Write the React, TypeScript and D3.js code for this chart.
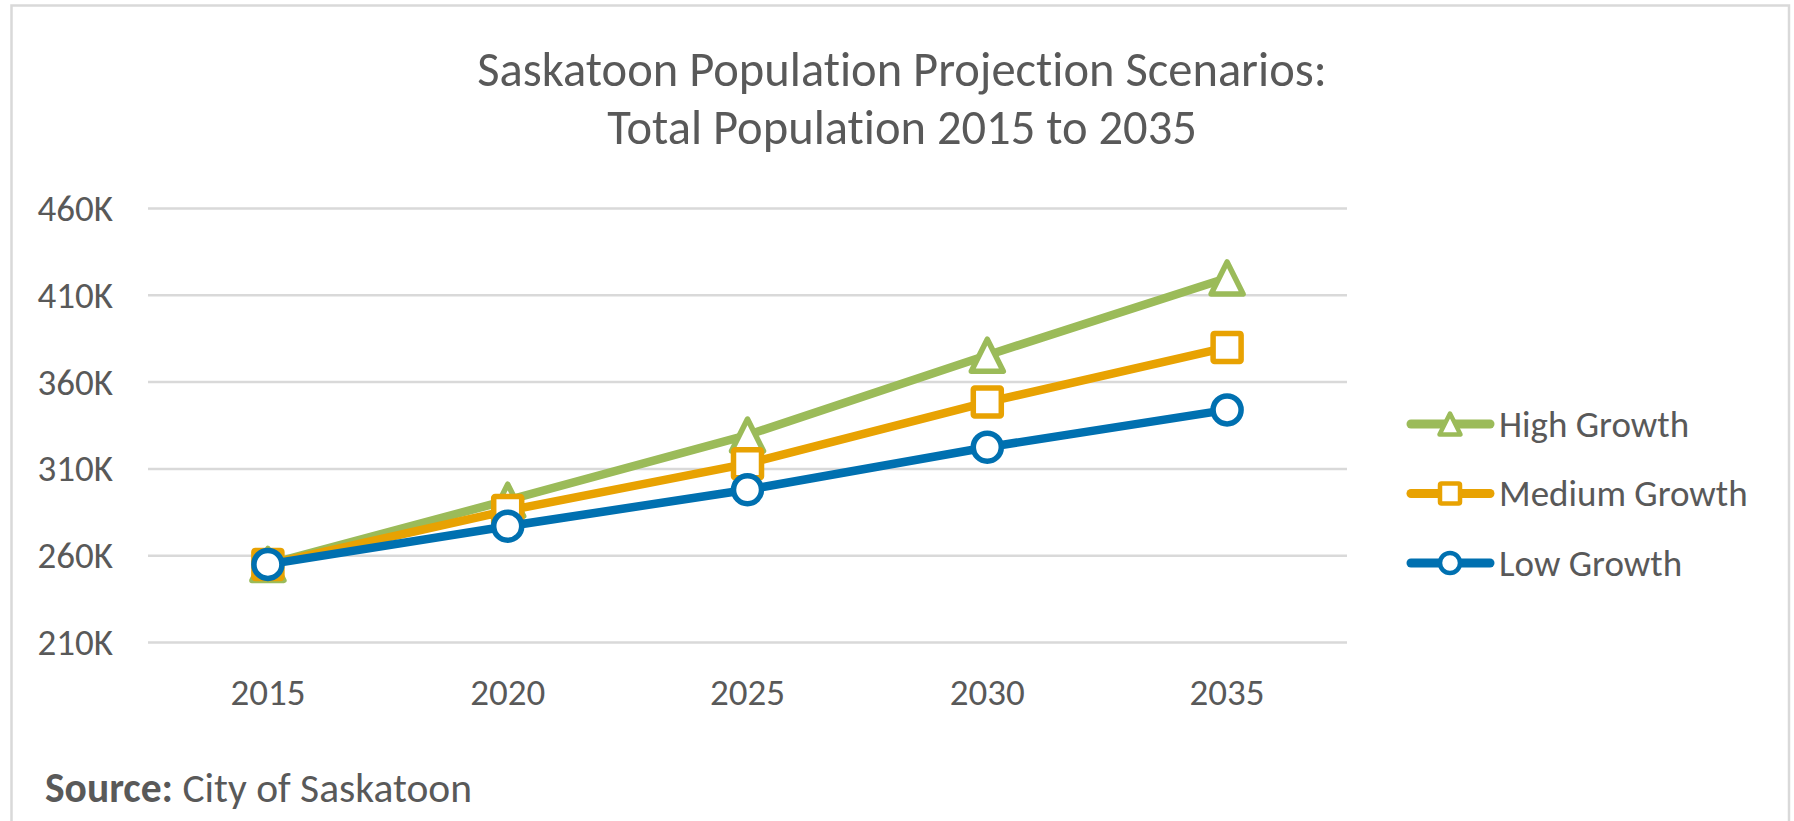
import * as d3 from 'd3'
import { useRef, useEffect } from 'react'

const years = ['2015', '2020', '2025', '2030', '2035']
const highGrowth = [255000, 292000, 329500, 375500, 420000]
const mediumGrowth = [255000, 286000, 313000, 348500, 380000]
const lowGrowth = [255000, 277000, 298000, 322500, 344000]
const yTicks = [210000, 260000, 310000, 360000, 410000, 460000]
const seriesNames = ['High Growth', 'Medium Growth', 'Low Growth']
const seriesColors = ['#9BBB59', '#E8A202', '#0070B0']
const seriesShapes = ['triangle', 'square', 'circle']
const titleLines = ['Saskatoon Population Projection Scenarios:', 'Total Population 2015 to 2035']

const FONT = 'Carlito, Lato, "Open Sans", sans-serif'
const TEXT = '#595959'

const App = () => {
  const chart = useRef<SVGSVGElement>(null)

  useEffect(() => {
    drawChart()
  }, [])

  const drawMarker = (g: any, shape: string, color: string, cx: number, cy: number, size: number, sw: number) => {
    if (shape === 'circle') {
      g.append('circle')
        .attr('cx', cx).attr('cy', cy).attr('r', size / 2)
        .attr('fill', '#fff').attr('stroke', color).attr('stroke-width', sw)
    } else if (shape === 'square') {
      g.append('rect')
        .attr('x', cx - size / 2).attr('y', cy - size / 2)
        .attr('width', size).attr('height', size).attr('rx', 1.5)
        .attr('fill', '#fff').attr('stroke', color).attr('stroke-width', sw)
    } else {
      const h = size / 2
      g.append('path')
        .attr('d', `M${cx},${cy - h}L${cx + h},${cy + h}L${cx - h},${cy + h}Z`)
        .attr('fill', '#fff').attr('stroke', color).attr('stroke-width', sw)
        .attr('stroke-linejoin', 'round')
    }
  }

  const drawChart = () => {
    const width = 1794
    const height = 821
    const svg = d3.select(chart.current)
    svg.selectAll('*').remove()
    svg.attr('width', width).attr('height', height)
      .style('font-variant-ligatures', 'none')

    // chart area border
    svg.append('rect')
      .attr('x', 11.5).attr('y', 5.5)
      .attr('width', 1777.5).attr('height', 840)
      .attr('fill', '#fff').attr('stroke', '#D9D9D9').attr('stroke-width', 2.5)

    // title
    svg.append('g').selectAll('text')
      .data(titleLines)
      .enter()
      .append('text')
      .attr('x', 902)
      .attr('y', (d, i) => 86 + i * 58)
      .attr('text-anchor', 'middle')
      .attr('font-family', FONT)
      .attr('font-size', 48.5)
      .attr('fill', TEXT)
      .text((d) => d)

    const x = d3.scaleBand().domain(years).range([148, 1347])
    const y = d3.scaleLinear().domain([210000, 460000]).range([642.5, 208.5])

    // gridlines
    svg.append('g').selectAll('line')
      .data(yTicks)
      .enter()
      .append('line')
      .attr('x1', 148).attr('x2', 1347)
      .attr('y1', (d) => y(d)).attr('y2', (d) => y(d))
      .attr('stroke', '#D9D9D9').attr('stroke-width', 2.5)

    // y labels
    svg.append('g').selectAll('text')
      .data(yTicks)
      .enter()
      .append('text')
      .attr('x', 113)
      .attr('y', (d) => y(d))
      .attr('dy', '0.34em')
      .attr('text-anchor', 'end')
      .attr('font-family', FONT)
      .attr('font-size', 37)
      .attr('fill', TEXT)
      .text((d) => d / 1000 + 'K')

    // x labels
    svg.append('g').selectAll('text')
      .data(years)
      .enter()
      .append('text')
      .attr('x', (d) => x(d)! + x.bandwidth() / 2)
      .attr('y', 705)
      .attr('text-anchor', 'middle')
      .attr('font-family', FONT)
      .attr('font-size', 37)
      .attr('fill', TEXT)
      .text((d) => d)

    const allSeries = [highGrowth, mediumGrowth, lowGrowth]
    const line = d3.line<number>()
      .x((d, i) => x(years[i])! + x.bandwidth() / 2)
      .y((d) => y(d))

    allSeries.forEach((values, s) => {
      const g = svg.append('g')
      g.append('path')
        .attr('d', line(values))
        .attr('fill', 'none')
        .attr('stroke', seriesColors[s])
        .attr('stroke-width', 8.5)
        .attr('stroke-linejoin', 'round')
      values.forEach((v, i) => {
        const size = seriesShapes[s] === 'triangle' ? 32 : 28
        drawMarker(g, seriesShapes[s], seriesColors[s], x(years[i])! + x.bandwidth() / 2, y(v), size, 5.5)
      })
    })

    // legend
    const legend = svg.append('g')
    seriesNames.forEach((name, s) => {
      const ly = 424 + s * 69.5
      legend.append('line')
        .attr('x1', 1411).attr('x2', 1490)
        .attr('y1', ly).attr('y2', ly)
        .attr('stroke', seriesColors[s]).attr('stroke-width', 9)
        .attr('stroke-linecap', 'round')
      drawMarker(legend, seriesShapes[s], seriesColors[s], 1450, ly, seriesShapes[s] === 'triangle' ? 21 : 20, 4.5)
      legend.append('text')
        .attr('x', 1499).attr('y', ly)
        .attr('dy', '0.34em')
        .attr('font-family', FONT)
        .attr('font-size', 37)
        .attr('fill', TEXT)
        .text(name)
    })

    // source
    const src = svg.append('text')
      .attr('x', 45).attr('y', 802)
      .attr('font-family', FONT)
      .attr('font-size', 41.5)
      .attr('fill', TEXT)
    src.append('tspan').attr('font-weight', 'bold').text('Source:')
    src.append('tspan').text(' City of Saskatoon')
  }

  return (
    <div style={{ position: 'absolute', left: 0, top: 0 }}>
      <svg ref={chart} style={{ display: 'block' }}></svg>
    </div>
  )
}

export default App
